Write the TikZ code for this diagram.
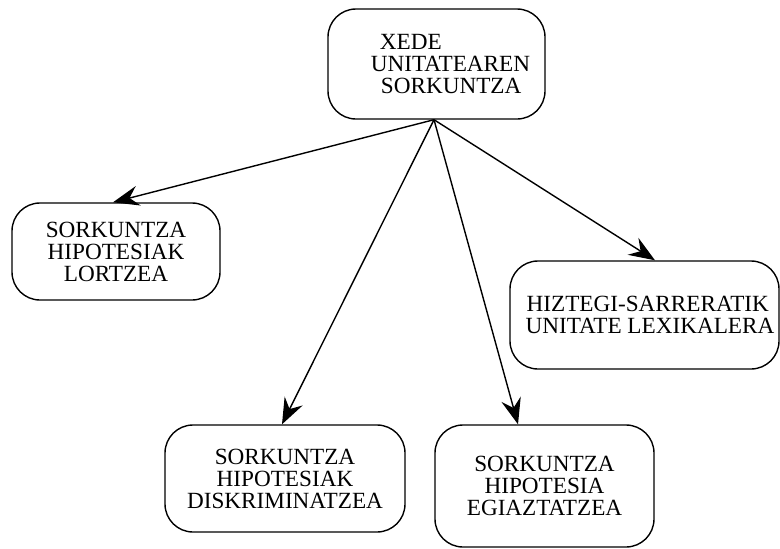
\documentclass[tikz,border=0pt]{standalone}
\usepackage{fontspec}
\setmainfont{Liberation Serif}
\usetikzlibrary{arrows.meta}
\begin{document}
\begin{tikzpicture}[x=1pt,y=-1pt,
  box/.style={draw, line width=1.4pt, rounded corners=28pt, inner sep=0pt,
    font=\fontsize{23.2pt}{22pt}\selectfont},
  arr/.style={line width=1.4pt, -{Stealth[length=26pt,width=20pt,inset=9pt]}}]
\useasboundingbox (0,0) rectangle (780,549);
\node[box, minimum width=217pt, minimum height=110pt, align=left] (top) at (436.5,64)
  {\hspace*{37pt}XEDE\\\hspace*{28pt}UNITATEAREN\\\hspace*{38pt}SORKUNTZA};
\node[box, minimum width=208pt, minimum height=97pt, align=center] (lft) at (116,251.5)
  {SORKUNTZA\\HIPOTESIAK\\LORTZEA};
\node[box, minimum width=269pt, minimum height=108pt, align=left] (rt) at (644.5,315)
  {\hspace*{12pt}HIZTEGI-SARRERATIK\\\hspace*{11pt}UNITATE LEXIKALERA};
\node[box, minimum width=240pt, minimum height=107pt, align=center] (bl) at (285,478.5)
  {SORKUNTZA\\HIPOTESIAK\\DISKRIMINATZEA};
\node[box, minimum width=219pt, minimum height=122pt, align=center] (br) at (544.5,486)
  {SORKUNTZA\\HIPOTESIA\\EGIAZTATZEA};
\coordinate (o) at ([xshift=-2.5pt]top.south);
\draw[arr] (o) -- ([xshift=-3pt]lft.north);
\draw[arr] (o) -- ([xshift=-3pt]bl.north);
\draw[arr] (o) -- ([xshift=-26.5pt]br.north);
\draw[arr] (o) -- ([xshift=10.5pt]rt.north);
\end{tikzpicture}
\end{document}
